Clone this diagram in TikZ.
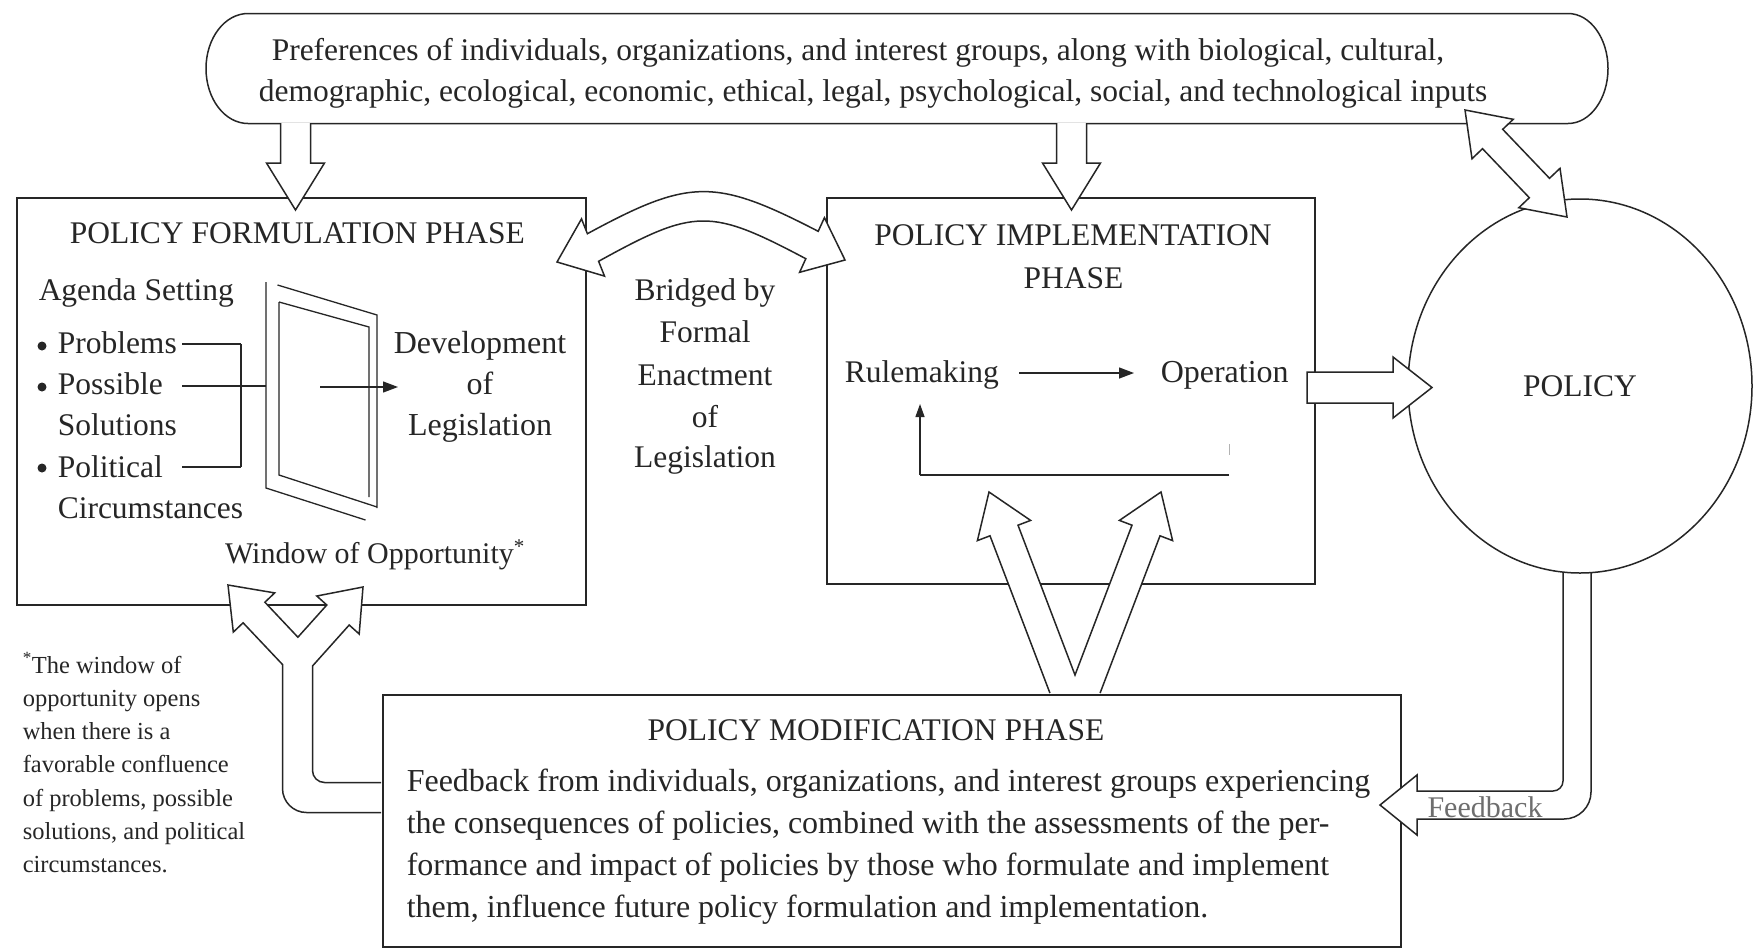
\documentclass[tikz,border=0pt]{standalone}
\usepackage{fontspec}
\setmainfont{Liberation Serif}
\usetikzlibrary{arrows.meta,shapes.geometric}
\definecolor{ink}{HTML}{262626}
\begin{document}
\begin{tikzpicture}[x=1pt,y=-1pt,color=ink,line width=1.5pt,
  frame/.style={draw,inner sep=0pt,anchor=north west},
  blk/.style={draw,fill=white,line join=miter},
  lbl/.style={inner sep=0pt,font=\fontsize{31.5}{38}\selectfont},
  body/.style={inner sep=0pt,font=\fontsize{32}{38}\selectfont},
  note/.style={inner sep=0pt,font=\fontsize{24.5}{30}\selectfont},
  lnk/.style={line width=1.3pt},
  tip/.style={-{Triangle[length=15pt,width=11pt]}}]
\useasboundingbox (0,0) rectangle (1758,951);
\fill[white] (0,0) rectangle (1758,951);

% ---- phase boxes
\node[frame,minimum width=569pt,minimum height=407pt] (form) at (16,197) {};
\node[frame,minimum width=488pt,minimum height=386pt] (impl) at (826,197) {};

% ---- inputs box
\draw (248,13.5) -- (1568,13.5)
  arc[start angle=-90,end angle=90,x radius=40,y radius=55]
  -- (248,123.5) arc[start angle=90,end angle=270,x radius=42,y radius=55] -- cycle;
\node[lbl,anchor=base] (in1) at (858,60) {Preferences of individuals, organizations, and interest groups, along with biological, cultural,};
\node[lbl,anchor=base] (in2) at (873,101) {demographic, ecological, economic, ethical, legal, psychological, social, and technological inputs};

% ---- inputs feeding the two phases
\coordinate (inF) at (295.5,123);
\coordinate (inI) at (1071.5,123);
\foreach \c in {inF,inI}
  \draw[blk,shift={(\c)}] (-15,0) -- (-15,40) -- (-29,40) -- (0,87) -- (29,40) -- (15,40) -- (15,0);

% ---- bridge between formulation and implementation
\draw[blk] (557,262) -- (581.5,218.9) -- (587.4,233.7)
  .. controls (690,178) and (715,178) .. (818.2,231.3) -- (824.4,217.7) -- (845,260)
  -- (799.6,272.3) -- (805.8,258.7)
  .. controls (710,208) and (695,208) .. (598.6,261.3) -- (604.5,276.1) -- cycle;

% ---- modification back to formulation (split arrow)
\draw[blk] (381,812.5) -- (306.5,812.5) arc[start angle=90,end angle=180,radius=24]
  -- (282.5,664.5) -- (243.1,622.8) -- (233.3,632.1) -- (228,585) -- (274.7,592.9)
  -- (264.9,602.2) -- (297.9,637.2) -- (326.8,605) -- (316.8,596) -- (363,587)
  -- (359.2,634) -- (349.2,625) -- (312.5,666) -- (312.5,770.5)
  arc[start angle=180,end angle=90,radius=12] -- (381,782.5);

% ---- modification back to implementation (V arrow)
\draw[blk] (1049.9,693) -- (990,535.8) -- (977.4,540.6) -- (989,492) -- (1030.6,520.4)
  -- (1018,525.2) -- (1075,675) -- (1132,525.2) -- (1119.4,520.4) -- (1161,492)
  -- (1172.6,540.6) -- (1160,535.8) -- (1100.1,693);

% ---- modification box
\node[frame,minimum width=1018pt,minimum height=252pt] (mod) at (382,694) {};

% ---- feedback from policy
\draw[blk] (1563,560) -- (1563,781) arc[start angle=0,end angle=90,radius=10]
  -- (1417,791) -- (1417,775) -- (1380,805) -- (1417,835) -- (1417,819)
  -- (1564,819) arc[start angle=90,end angle=0,radius=27] -- (1591,560);

% ---- policy
\node[draw,fill=white,ellipse,minimum width=344pt,minimum height=374pt,lbl] (pol) at (1580,386) {POLICY};

% ---- implementation to policy
\draw[blk] (1307,372) -- (1393,372) -- (1393,357) -- (1432,387.5) -- (1393,418)
  -- (1393,403) -- (1307,403) -- cycle;

% ---- inputs <-> policy
\draw[blk] (1465,110) -- (1472,158.7) -- (1482.5,148.7) -- (1529.3,197.7) -- (1518.8,207.7)
  -- (1567,217) -- (1560,168.3) -- (1549.5,178.3) -- (1502.7,129.3) -- (1513.2,119.3) -- cycle;

% ---- formulation phase contents
\node[lbl,anchor=base] (fT) at (297.5,243) {POLICY FORMULATION PHASE};
\node[lbl,anchor=base west] (ag) at (38,300) {Agenda Setting};
\node[lbl,anchor=base west] (p1) at (57,353) {Problems};
\node[lbl,anchor=base west] (p2) at (57,394) {Possible};
\node[lbl,anchor=base west] (p2b) at (57,435) {Solutions};
\node[lbl,anchor=base west] (p3) at (57,477) {Political};
\node[lbl,anchor=base west] (p3b) at (57,518) {Circumstances};
\foreach \y in {346,387,468} \fill (42,\y) circle[radius=4.5];
\draw[lnk] (182,344) -- (241,344) (182,467) -- (241,467) (241,344) -- (241,467)
  (182,386) -- (266,386);
% the window
\draw[lnk] (266,282) -- (266,488) -- (365.5,520)
  (277.5,285) -- (377,315) -- (377,508)
  (279,302) -- (279,475) -- (377,507)
  (279,302) -- (369,327) -- (369,497);
\draw[lnk,tip] (320,387) -- (398,387);
\node[body,anchor=base] (dv1) at (480,353) {Development};
\node[body,anchor=base] (dv2) at (480,394) {of};
\node[body,anchor=base] (dv3) at (480,435) {Legislation};
\node[lbl,font=\fontsize{30}{36}\selectfont,anchor=base] (win) at (375,563) {Window of Opportunity\textsuperscript{*}};

% ---- bridge label
\foreach \t/\y [count=\i] in {Bridged by/300,Formal/342,Enactment/385,of/427,Legislation/467}
  \node[lbl,anchor=base] (br\i) at (705,\y) {\t};

% ---- implementation phase contents
\node[lbl,anchor=base] (iT1) at (1073,245) {POLICY IMPLEMENTATION};
\node[lbl,anchor=base] (iT2) at (1073.5,288) {PHASE};
\node[lbl,anchor=base west] (rule) at (844,382) {Rulemaking};
\node[body,anchor=base west] (oper) at (1160,382) {Operation};
\draw[lnk,tip] (1019,373) -- (1134,373);
\coordinate (loopL) at (920,475);
\coordinate (loopR) at (1229,475);
\draw[lnk] (loopR) -- (loopL);
\draw[lnk,-{Triangle[length=13pt,width=9pt]}] (loopL) -- (920,404);
\draw[line width=1pt,gray!60] (1229,444) -- (1229,455);

% ---- modification phase contents
\node[lbl,anchor=base] (mT) at (876,740) {POLICY MODIFICATION PHASE};
\foreach \t [count=\i] in {{Feedback from individuals, organizations, and interest groups experiencing},
  {the consequences of policies, combined with the assessments of the per-},
  {formance and impact of policies by those who formulate and implement},
  {them, influence future policy formulation and implementation.}}
  \node[body,anchor=base west] (mb\i) at (406,749+42*\i) {\t};

\node[lbl,font=\fontsize{30}{36}\selectfont,anchor=base,text=gray!80!ink] (fb) at (1485,817) {Feedback};

% ---- footnote
\foreach \t [count=\i] in {{\textsuperscript{*}The window of},{opportunity opens},{when there is a},
  {favorable confluence},{of problems, possible},{solutions, and political},{circumstances.}}
  \node[note,anchor=base west] (fn\i) at (22,639.7+33.3*\i) {\t};
\end{tikzpicture}
\end{document}
